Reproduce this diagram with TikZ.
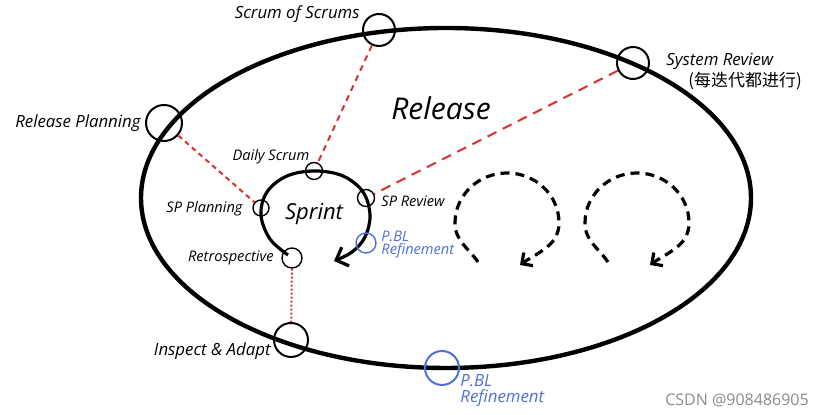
\documentclass[tikz,border=0pt]{standalone}
\usepackage{fontspec}
\setmainfont{Open Sans}
\newfontfamily\cjkfont{Noto Sans CJK SC}
\usetikzlibrary{shapes.geometric, arrows.meta, positioning}
\definecolor{LinkRed}{HTML}{D8322E}
\definecolor{NoteBlue}{HTML}{4F70D8}
\definecolor{MarkGrey}{HTML}{8A8A8A}
\tikzstyle{ring} = [circle, draw=black, line width=1pt, inner sep=0pt, minimum size=16pt]
\tikzstyle{tick} = [circle, draw=black, line width=0.7pt, inner sep=0pt, minimum size=8.5pt]
\tikzstyle{biglabel} = [font=\fontsize{8.4}{10}\selectfont\itshape, inner sep=1pt]
\tikzstyle{smalllabel} = [font=\fontsize{7.3}{8.5}\selectfont\itshape, inner sep=1pt]
\tikzstyle{link} = [draw=LinkRed, line width=1pt]
\tikzstyle{sprintloop} = [line width=1.6pt, -{Straight Barb[length=5pt, width=10pt]}]
\tikzstyle{nextloop} = [line width=1.6pt, dash pattern=on 4.5pt off 3pt, -{Straight Barb[length=4pt, width=8pt]}]

\begin{document}
\begin{tikzpicture}[x=0.5pt, y=0.5pt]
\useasboundingbox (0,0) rectangle (820,415);

% release
\draw [line width=2.2pt] (446,217) ellipse [x radius=305, y radius=170];
\node (release) [font=\fontsize{15}{17}\selectfont\itshape] at (441,307) {Release};

\node (sos) [ring] at (379,385) {};
\node (relplan) [ring, minimum size=18pt] at (164,292) {};
\node (sysrev) [ring] at (633,352) {};
\node (inspect) [ring, minimum size=17pt] at (291,75) {};
\node (pbl) [ring, draw=NoteBlue, minimum size=17pt] at (442,47) {};

\node [biglabel, anchor=east] at (362,401) {Scrum of Scrums};
\node [biglabel, left=1pt of relplan] {Release Planning};
\node [biglabel, anchor=west] at (664,354) {System Review};
\node [font=\fontsize{8.5}{10}\selectfont\cjkfont, inner sep=1pt, anchor=west] at (686,334) {(每迭代都进行)};
\node [biglabel, anchor=east] at (273,64) {Inspect \& Adapt};
\node [biglabel, text=NoteBlue, align=left, anchor=west] at (458,24) {P.BL\\[-2pt]Refinement};

% sprint
\draw [sprintloop] plot [smooth, tension=0.6] coordinates {(288,160) (270,176) (261,200) (267,223)
  (287,239) (315,244) (343,239) (363,223) (370,200) (365,178) (352,163) (334,154)};
\node (sprint) [font=\fontsize{11}{13}\selectfont\itshape] at (314,201) {Sprint};

\node (daily) [tick] at (314,244) {};
\node (spplan) [tick, minimum size=8pt] at (261,207) {};
\node (sprev) [tick] at (366,217) {};
\node (pblsmall) [tick, draw=NoteBlue, minimum size=10pt] at (366,172) {};
\node (retro) [tick, minimum size=10pt] at (292,157) {};

\node [smalllabel] at (271,258) {Daily Scrum};
\node [smalllabel, anchor=east] at (245,206) {SP Planning};
\node [smalllabel, anchor=west] at (379,214) {SP Review};
\node [smalllabel, anchor=east] at (276,157) {Retrospective};
\node [smalllabel, text=NoteBlue, align=left, anchor=west] at (379,170) {P.BL\\[-2pt]Refinement};

\draw [link, dash pattern=on 2.5pt off 2pt] (relplan) -- (spplan);
\draw [link, dash pattern=on 3pt off 2.5pt] (sos) -- (daily);
\draw [link, dash pattern=on 5pt off 3.5pt] (sysrev) -- (sprev);
\draw [link, dash pattern=on 1pt off 1pt] (retro) -- (inspect);

% next sprints
\draw [nextloop] (478,153) to[out=125,in=-90] (455,192) to[out=90,in=180] (507,242)
  to[out=0,in=90] (559,192) to[out=-90,in=35] (520,150);
\draw [nextloop] (608,153) to[out=125,in=-90] (585,192) to[out=90,in=180] (637,242)
  to[out=0,in=90] (689,192) to[out=-90,in=35] (650,150);

\node [font=\fontsize{8}{10}\selectfont, text=MarkGrey] at (737,15) {CSDN @908486905};

\end{tikzpicture}
\end{document}
